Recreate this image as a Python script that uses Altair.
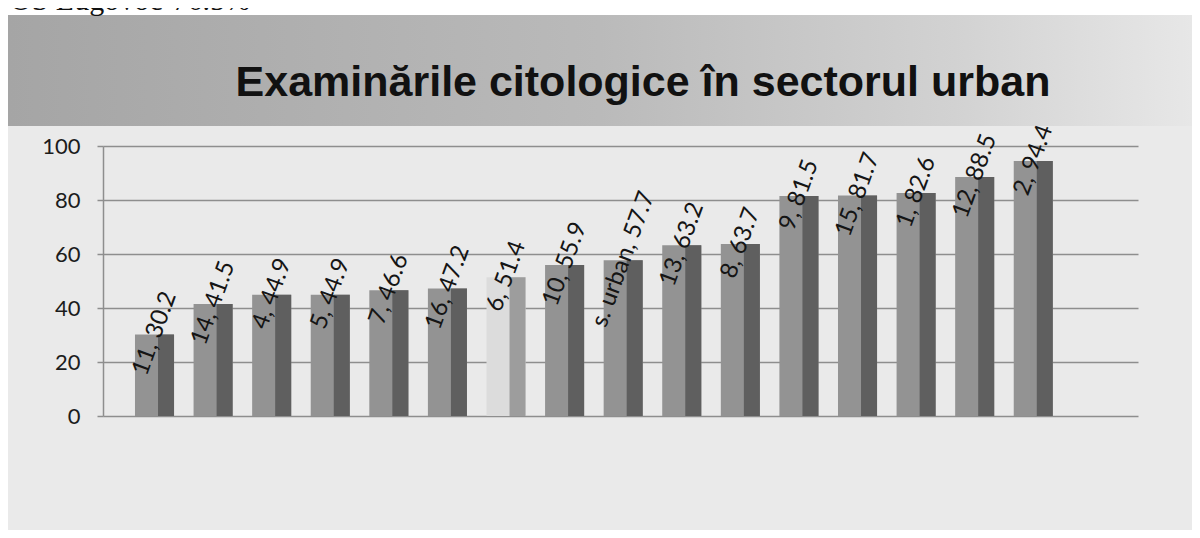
import altair as alt
import pandas as pd

# ---- data ----
categories = ["11", "14", "4", "5", "7", "16", "6", "10", "s. urban",
              "13", "8", "9", "15", "1", "12", "2"]
values = [30.2, 41.5, 44.9, 44.9, 46.6, 47.2, 51.4, 55.9, 57.7,
          63.2, 63.7, 81.5, 81.7, 82.6, 88.5, 94.4]
y_ticks = [0, 20, 40, 60, 80, 100]
title_text = "Examinările citologice în sectorul urban"
header_note = "-OS Lugovoc-76.5%"

df = pd.DataFrame({"cat": categories, "val": values})
one = pd.DataFrame({"k": [0]})

W, H = 1035, 270

x_enc = alt.X("cat:N", sort=categories, axis=None,
              scale=alt.Scale(paddingInner=0.333, paddingOuter=1.0, align=0.273))
y_enc = alt.Y("val:Q", title=None,
              scale=alt.Scale(domain=[0, 100], nice=False, zero=True),
              axis=alt.Axis(values=y_ticks, grid=True, tickSize=6, labelPadding=17))

base = alt.Chart(df)

light = base.mark_bar().encode(
    x=x_enc, y=y_enc,
    color=alt.condition(alt.datum.cat == "6", alt.value("#dcdcdc"), alt.value("#939393")),
)
dark = base.mark_bar(size=16, xOffset=11.5).encode(
    x=x_enc, y=alt.Y("val:Q"),
    color=alt.condition(alt.datum.cat == "6", alt.value("#9d9d9d"), alt.value("#5f5f5f")),
)
labels = base.transform_calculate(
    label="datum.cat + ', ' + format(datum.val, '.1f')"
).mark_text(angle=290, align="center", baseline="middle", font="Lato",
            fontSize=24, color="#151515", dx=1).encode(
    x=x_enc, y=alt.Y("val:Q"), text="label:N"
)

header = alt.Chart(one).mark_rect(
    color=alt.Gradient(gradient="linear",
                       stops=[alt.GradientStop(color="#a5a5a5", offset=0),
                              alt.GradientStop(color="#bababa", offset=0.5),
                              alt.GradientStop(color="#d2d2d2", offset=0.8),
                              alt.GradientStop(color="#e7e7e7", offset=1)],
                       x1=0, x2=1, y1=0, y2=0)
).encode(x=alt.value(-95), x2=alt.value(1089), y=alt.value(-131), y2=alt.value(-20))

top_white = alt.Chart(one).mark_rect(color="white").encode(
    x=alt.value(-95), x2=alt.value(1089), y=alt.value(-138), y2=alt.value(-131))

note = alt.Chart(one).mark_text(
    text=header_note, font="Liberation Serif", fontSize=30, align="left",
    baseline="alphabetic", color="#111"
).encode(x=alt.value(-103), y=alt.value(-136))

title = alt.Chart(one).mark_text(
    text=title_text, font="Liberation Sans", fontWeight="bold", fontSize=43,
    align="center", baseline="alphabetic", color="#111"
).encode(x=alt.value(540), y=alt.value(-50))

chart = alt.layer(header, top_white, note, light, dark, labels, title).properties(
    width=W, height=H,
    background="#eaeaea",
    autosize=alt.AutoSizeParams(type="none"),
    padding={"left": 95, "top": 138, "right": 54, "bottom": 114},
).configure_view(stroke=None).configure_axis(
    domainColor="#8e8e8e", domainWidth=1.5,
    gridColor="#8e8e8e", gridWidth=1.5,
    tickColor="#8e8e8e", tickWidth=1.5,
    labelFont="Lato", labelFontSize=22, labelColor="#1c1c1c",
)

chart.save("out.html", embed_options={"renderer": "svg", "actions": False})
